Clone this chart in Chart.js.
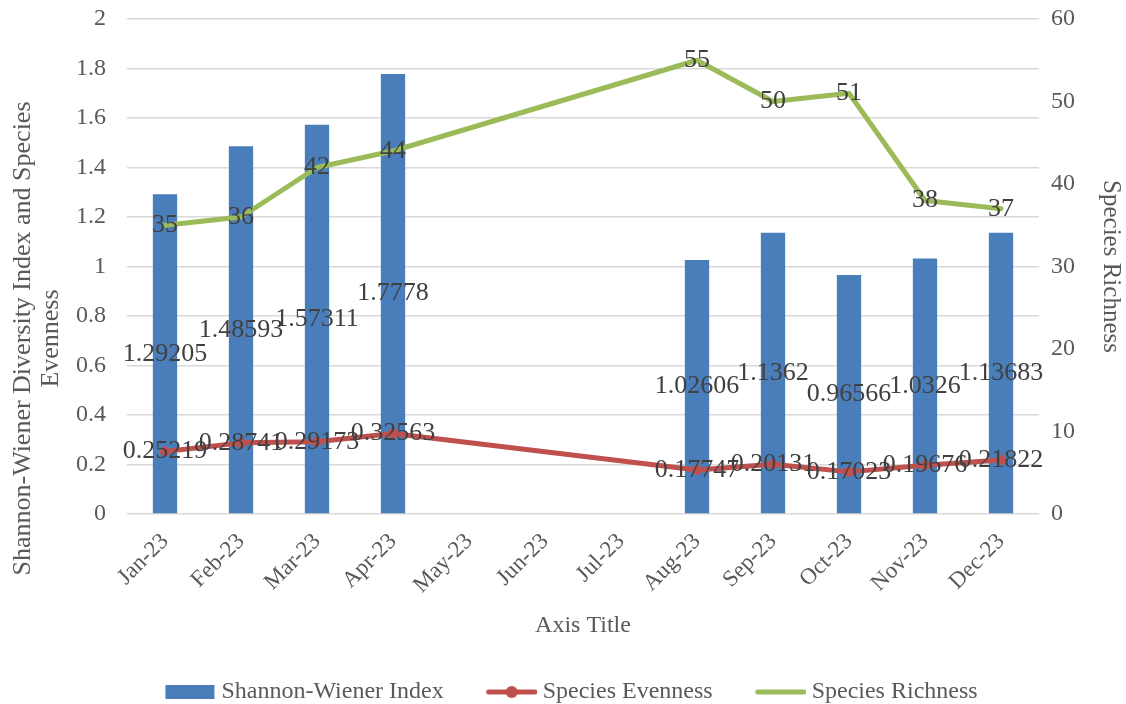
<!DOCTYPE html>
<html>
<head>
<meta charset="utf-8">
<title>Shannon-Wiener Index, Species Evenness and Species Richness, 2023</title>
<script src="https://cdn.jsdelivr.net/npm/chart.js@4/dist/chart.umd.min.js"></script>
<style>
  html, body { margin: 0; padding: 0; background: #ffffff; }
  #chart { display: block; }
</style>
</head>
<body>
<canvas id="chart" width="1126" height="704"></canvas>
<script>
// Monthly survey results (no sampling May–Jul 2023)
const months = ['Jan-23', 'Feb-23', 'Mar-23', 'Apr-23', 'May-23', 'Jun-23',
                'Jul-23', 'Aug-23', 'Sep-23', 'Oct-23', 'Nov-23', 'Dec-23'];
const shannonIndex = [1.29205, 1.48593, 1.57311, 1.7778, null, null, null,
                      1.02606, 1.1362, 0.96566, 1.0326, 1.13683];
const speciesEvenness = [0.25219, 0.28741, 0.29173, 0.32563, null, null, null,
                         0.17747, 0.20131, 0.17023, 0.19676, 0.21822];
const speciesRichness = [35, 36, 42, 44, null, null, null, 55, 50, 51, 38, 37];

const seriesNames = ['Shannon-Wiener Index', 'Species Evenness', 'Species Richness'];
const leftAxisTitle = ['Shannon-Wiener Diversity Index and Species', 'Evenness'];
const rightAxisTitle = 'Species Richness';
const xAxisTitle = 'Axis Title';

const FONT = '"Liberation Serif", "Times New Roman", serif';
const TEXT = '#595959';
const LABEL = '#404040';
const BLUE = '#4a7ebb';
const RED = '#c0504d';
const GREEN = '#9bbb59';
const CLEAR = 'rgba(0,0,0,0)';

// Legend swatches: transparent lead-in keeps the items spaced apart,
// the swatch itself sits at the right end next to the label text
function swatch(kind) {
  const c = document.createElement('canvas');
  c.width = 96; c.height = 16;
  const g = c.getContext('2d');
  if (kind === 'bar') {
    g.fillStyle = BLUE;
    g.fillRect(46, 1, 49, 14);
  } else {
    g.strokeStyle = kind === 'even' ? RED : GREEN;
    g.lineWidth = 5;
    g.lineCap = 'round';
    g.beginPath(); g.moveTo(48, 8); g.lineTo(94, 8); g.stroke();
    if (kind === 'even') {
      g.fillStyle = RED;
      g.beginPath(); g.arc(71, 8, 6, 0, Math.PI * 2); g.fill();
    }
  }
  return c;
}
const legendSwatches = [swatch('bar'), swatch('even'), swatch('rich')];

// Value labels drawn at each bar's middle and on each line point
const valueLabels = {
  id: 'valueLabels',
  afterDatasetsDraw(chart) {
    const ctx = chart.ctx;
    ctx.save();
    ctx.font = '26px ' + FONT;
    ctx.fillStyle = LABEL;
    ctx.textAlign = 'center';
    ctx.textBaseline = 'middle';
    chart.data.datasets.forEach((ds, i) => {
      const meta = chart.getDatasetMeta(i);
      meta.data.forEach((el, j) => {
        const v = ds.data[j];
        if (v === null || v === undefined) return;
        const p = el.getCenterPoint();
        ctx.fillText(String(v), p.x, p.y);
      });
    });
    ctx.restore();
  }
};

// Two-line title for the left axis
const leftTitle = {
  id: 'leftTitle',
  afterDraw(chart) {
    const ctx = chart.ctx;
    const area = chart.chartArea;
    const cy = (area.top + area.bottom) / 2 + 72;
    ctx.save();
    ctx.font = '26px ' + FONT;
    ctx.fillStyle = TEXT;
    ctx.textAlign = 'center';
    ctx.textBaseline = 'middle';
    const xs = [23, 51];
    leftAxisTitle.forEach((line, k) => {
      ctx.save();
      ctx.translate(xs[k], cy);
      ctx.rotate(-Math.PI / 2);
      ctx.fillText(line, 0, 0);
      ctx.restore();
    });
    ctx.restore();
  }
};

new Chart(document.getElementById('chart'), {
  data: {
    labels: months,
    datasets: [
      {
        type: 'bar',
        label: seriesNames[0],
        data: shannonIndex,
        yAxisID: 'y',
        backgroundColor: BLUE,
        barPercentage: 0.32,
        categoryPercentage: 1,
        order: 3
      },
      {
        type: 'line',
        label: seriesNames[1],
        data: speciesEvenness,
        yAxisID: 'y',
        borderColor: RED,
        backgroundColor: RED,
        borderWidth: 5,
        borderJoinStyle: 'round',
        borderCapStyle: 'round',
        pointRadius: 5,
        pointBorderWidth: 0,
        spanGaps: true,
        tension: 0,
        order: 2
      },
      {
        type: 'line',
        label: seriesNames[2],
        data: speciesRichness,
        yAxisID: 'y1',
        borderColor: GREEN,
        backgroundColor: GREEN,
        borderWidth: 5,
        borderJoinStyle: 'round',
        borderCapStyle: 'round',
        pointRadius: 0,
        spanGaps: true,
        tension: 0,
        order: 1
      }
    ]
  },
  options: {
    responsive: false,
    animation: false,
    layout: { padding: { top: 19, right: 0, bottom: -10, left: -23 } },
    plugins: {
      tooltip: { enabled: false },
      legend: {
        position: 'bottom',
        labels: {
          usePointStyle: true,
          pointStyleWidth: 84,
          padding: 3,
          color: TEXT,
          font: { family: FONT, size: 24 },
          sort: (a, b) => a.datasetIndex - b.datasetIndex,
          generateLabels(chart) {
            const items = Chart.defaults.plugins.legend.labels.generateLabels(chart);
            items.forEach(it => { it.pointStyle = legendSwatches[it.datasetIndex]; });
            return items;
          }
        }
      }
    },
    scales: {
      x: {
        grid: { display: false },
        border: { display: false },
        ticks: {
          autoSkip: false,
          minRotation: 45,
          maxRotation: 45,
          padding: 6,
          color: TEXT,
          font: { family: FONT, size: 23 }
        },
        title: {
          display: true,
          text: xAxisTitle,
          color: TEXT,
          font: { family: FONT, size: 24 },
          padding: { top: 0, bottom: 37 }
        },
        afterFit(scale) { scale.height = 163; }
      },
      y: {
        position: 'left',
        min: 0,
        max: 2,
        ticks: {
          stepSize: 0.2,
          padding: 0,
          color: TEXT,
          font: { family: FONT, size: 24 },
          callback: v => String(Math.round(v * 10) / 10)
        },
        grid: { color: '#d9d9d9', lineWidth: 1.5, drawTicks: true, tickLength: 21, tickColor: CLEAR },
        border: { display: false },
        afterFit(scale) { scale.width = 150; }
      },
      y1: {
        position: 'right',
        min: 0,
        max: 60,
        ticks: {
          stepSize: 10,
          padding: 0,
          color: TEXT,
          font: { family: FONT, size: 24 }
        },
        grid: { display: false, drawOnChartArea: false, drawTicks: true, tickLength: 12, tickColor: CLEAR },
        border: { display: false },
        title: {
          display: true,
          text: rightAxisTitle,
          color: TEXT,
          font: { family: FONT, size: 25 },
          padding: 0
        },
        afterFit(scale) { scale.width = 87; }
      }
    }
  },
  plugins: [valueLabels, leftTitle]
});
</script>
</body>
</html>
